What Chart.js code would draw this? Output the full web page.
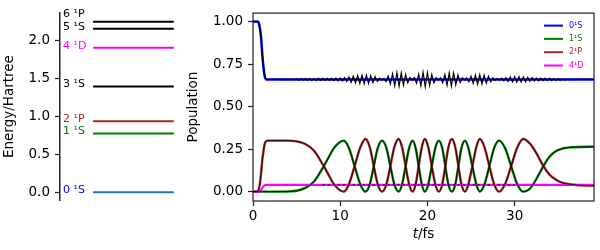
<!DOCTYPE html>
<html>
<head>
<meta charset="utf-8">
<script src="https://cdn.jsdelivr.net/npm/chart.js"></script>
<style>
  html, body { margin: 0; padding: 0; background: #fff; }
  #wrap { position: relative; width: 600px; height: 250px; }
  #levels { position: absolute; left: 0; top: 0; width: 185px; height: 250px; }
  #pop { position: absolute; left: 185px; top: 0; width: 415px; height: 250px; }
</style>
</head>
<body>
<div id="wrap">
  <canvas id="levels" width="185" height="250"></canvas>
  <canvas id="pop" width="415" height="250"></canvas>
</div>
<script>
// energy levels (left panel)
const levelNames = ['0 ¹S', '1 ¹S', '2 ¹P', '3 ¹S', '4 ¹D', '5 ¹S', '6 ¹P'];
const levelEnergies = [0.0, 0.772, 0.933, 1.389, 1.900, 2.148, 2.240];
const levelColors = ['#1f77b4', 'green', 'brown', 'black', 'magenta', 'black', 'black'];
const levelTextColors = ['blue', 'green', 'brown', 'black', 'magenta', 'black', 'black'];
const energyTicks = [0.0, 0.5, 1.0, 1.5, 2.0];

// populations (right panel)
const stateNames = ['0¹S', '1¹S', '2¹P', '4¹D'];
const stateColors = ['blue', 'green', 'brown', 'magenta'];
const popTicks = [0.0, 0.25, 0.5, 0.75, 1.0];
const timeTicks = [0, 10, 20, 30];

// 0 1S, smooth curve
const t0S = [0, 0.5, 0.7, 0.9, 1.1, 1.3, 1.5, 39.1];
const p0S = [1.0, 1.0, 0.985, 0.92, 0.785, 0.69, 0.66, 0.66];

// 0 1S, fast oscillating curve drawn on top
const t0Sfast = [0, 0.5, 0.7, 0.9, 1.1, 1.3, 1.5, 3.0,
  3.5, 3.75, 4, 4.25, 4.5, 4.75, 5, 5.25, 5.5, 5.75,
  6, 6.25, 6.5, 6.75, 7, 7.25, 7.5, 7.75, 8, 8.25,
  8.5, 8.75, 9, 9.25, 9.5, 9.75, 10, 10.25, 10.5, 10.75,
  11, 11.25, 11.5, 11.75, 12, 12.25, 12.5, 12.75, 13, 13.25,
  13.5, 13.75, 14, 14.25, 14.5, 14.75, 15, 15.25, 15.5, 15.75,
  16, 16.25, 16.5, 16.75, 17, 17.25, 17.5, 17.75, 18, 18.25,
  18.5, 18.75, 19, 19.25, 19.5, 19.75, 20, 20.25, 20.5, 20.75,
  21, 21.25, 21.5, 21.75, 22, 22.25, 22.5, 22.75, 23, 23.25,
  23.5, 23.75, 24, 24.25, 24.5, 24.75, 25, 25.25, 25.5, 25.75,
  26, 26.25, 26.5, 26.75, 27, 27.25, 27.5, 27.75, 28, 28.25,
  28.5, 28.75, 29, 29.25, 29.5, 29.75, 30, 30.25, 30.5, 30.75,
  31, 31.25, 31.5, 31.75, 32, 32.25, 32.5, 32.75, 33, 33.25,
  33.5, 33.75, 34, 34.25, 34.5, 34.75, 35, 35.25, 35.5, 35.75,
  36, 36.25, 36.5, 36.75, 37, 39.1];
const p0Sfast = [1.0, 1.0, 0.985, 0.92, 0.785, 0.69, 0.66, 0.66,
  0.662, 0.658, 0.663, 0.657, 0.663, 0.657, 0.664, 0.656, 0.664, 0.656,
  0.665, 0.655, 0.665, 0.655, 0.665, 0.654, 0.666, 0.654, 0.666, 0.654,
  0.666, 0.654, 0.666, 0.653, 0.667, 0.652, 0.668, 0.651, 0.670, 0.648,
  0.674, 0.643, 0.679, 0.639, 0.683, 0.636, 0.685, 0.634, 0.685, 0.636,
  0.682, 0.641, 0.676, 0.648, 0.668, 0.656, 0.664, 0.648, 0.680, 0.633,
  0.693, 0.623, 0.700, 0.620, 0.698, 0.626, 0.688, 0.640, 0.672, 0.656,
  0.672, 0.638, 0.691, 0.622, 0.702, 0.617, 0.701, 0.624, 0.689, 0.640,
  0.671, 0.656, 0.670, 0.641, 0.688, 0.625, 0.699, 0.620, 0.698, 0.627,
  0.686, 0.642, 0.670, 0.656, 0.668, 0.646, 0.679, 0.637, 0.686, 0.632,
  0.688, 0.633, 0.685, 0.638, 0.678, 0.646, 0.670, 0.654, 0.664, 0.656,
  0.666, 0.652, 0.670, 0.648, 0.674, 0.645, 0.676, 0.644, 0.676, 0.645,
  0.674, 0.647, 0.672, 0.649, 0.670, 0.651, 0.668, 0.652, 0.667, 0.653,
  0.667, 0.654, 0.666, 0.654, 0.665, 0.655, 0.664, 0.656, 0.663, 0.658,
  0.662, 0.659, 0.661, 0.660, 0.660, 0.660];

// 1 1S and 2 1P share one time grid
const tRabi = [0, 0.5, 0.8, 1.1, 1.4, 1.7, 3.0, 4.0, 5.0, 6.0, 7.0, 8.0, 8.6, 9.2, 9.8, 10.4,
  11.0, 11.65, 12.3, 12.9,
  13.4, 13.85, 14.3, 14.8,
  15.3, 15.75, 16.2, 16.7,
  17.1, 17.5, 17.9, 18.3,
  18.65, 19.0, 19.35, 19.7,
  20.1, 20.5, 20.9, 21.3,
  21.7, 22.05, 22.4, 22.8,
  23.2, 23.55, 23.9, 24.3,
  24.7, 25.15, 25.6, 26.0,
  26.55, 27.1, 27.65, 28.2,
  28.9, 29.6, 30.3, 31.0,
  31.8, 32.5, 33.3, 34.0, 34.8, 35.6, 36.5, 37.5, 39.1];
const p1S = [0, 0, 0, 0, 0, 0, 0, 0.001, 0.005, 0.022, 0.06, 0.14, 0.195, 0.25, 0.285, 0.30,
  0.256, 0.15, 0.044, 0.0,
  0.044, 0.15, 0.256, 0.30,
  0.256, 0.15, 0.044, 0.0,
  0.044, 0.15, 0.256, 0.30,
  0.256, 0.15, 0.044, 0.0,
  0.044, 0.15, 0.256, 0.30,
  0.256, 0.15, 0.044, 0.0,
  0.044, 0.15, 0.256, 0.30,
  0.256, 0.15, 0.044, 0.0,
  0.044, 0.15, 0.256, 0.30,
  0.256, 0.15, 0.044, 0.0,
  0.02, 0.075, 0.15, 0.205, 0.24, 0.255, 0.261, 0.263, 0.264];
const p2P = [0, 0, 0.05, 0.2, 0.29, 0.30, 0.30, 0.30, 0.296, 0.28, 0.24, 0.16, 0.105, 0.05, 0.015, 0.0,
  0.044, 0.15, 0.26, 0.31,
  0.26, 0.15, 0.044, 0.0,
  0.044, 0.15, 0.26, 0.31,
  0.26, 0.15, 0.044, 0.0,
  0.044, 0.15, 0.26, 0.31,
  0.26, 0.15, 0.044, 0.0,
  0.044, 0.15, 0.26, 0.31,
  0.26, 0.15, 0.044, 0.0,
  0.044, 0.15, 0.26, 0.31,
  0.26, 0.15, 0.044, 0.0,
  0.044, 0.15, 0.26, 0.31,
  0.28, 0.225, 0.15, 0.1, 0.068, 0.05, 0.042, 0.037, 0.035];

// 4 1D
const t4D = [0, 0.7, 0.9, 1.1, 1.3, 1.5, 39.1];
const p4D = [0, 0, 0.008, 0.025, 0.036, 0.04, 0.04];
const t4Dmark = [8.0, 30.0];
const p4Dmark = [0.04, 0.04];

Chart.defaults.font.family = '"DejaVu Sans"';
Chart.defaults.color = '#000';

const pts = (xs, ys) => xs.map((x, i) => ({x: x, y: ys[i]}));
const FONT = {size: 13.5};

// ---------- left: level diagram ----------
const levelLabels = {
  id: 'levelLabels',
  afterDatasetsDraw(chart) {
    const {ctx, chartArea, scales} = chart;
    ctx.save();
    ctx.font = '11px "DejaVu Sans"';
    ctx.textBaseline = 'middle';
    ctx.textAlign = 'left';
    let prev = Infinity;
    levelEnergies.forEach((e, i) => {
      let py = scales.y.getPixelForValue(e) - 2;
      if (prev - py < 12) py = prev - 13;  // keep stacked labels apart
      prev = py;
      ctx.fillStyle = levelTextColors[i];
      ctx.fillText(levelNames[i], chartArea.left + 3, py);
    });
    ctx.restore();
  }
};

new Chart(document.getElementById('levels'), {
  type: 'line',
  data: {
    datasets: levelEnergies.map((e, i) => ({
      label: levelNames[i],
      data: [{x: 0, y: e}, {x: 1, y: e}],
      borderColor: levelColors[i],
      borderWidth: 2,
      pointRadius: 0
    }))
  },
  options: {
    responsive: false,
    animation: false,
    events: [],
    layout: {padding: {left: 0, top: 6, right: 8, bottom: 50}},
    plugins: {legend: {display: false}, tooltip: {enabled: false}},
    scales: {
      x: {type: 'linear', min: -0.41, max: 1.04, display: false},
      y: {
        type: 'linear', min: -0.101, max: 2.354,
        afterFit(s) { s.width = 60; },
        afterBuildTicks(s) { s.ticks = energyTicks.map(v => ({value: v})); },
        ticks: {font: FONT, color: '#000', padding: 5, callback: v => v.toFixed(1)},
        grid: {drawOnChartArea: false, drawTicks: true, tickLength: 5, tickColor: '#222', tickWidth: 1.2},
        border: {display: true, color: '#222', width: 1.5},
        title: {display: true, text: 'Energy/Hartree', font: FONT, color: '#000', padding: {top: 1, bottom: 0}}
      }
    }
  },
  plugins: [levelLabels]
});

// ---------- right: populations ----------
const popExtras = {
  id: 'popExtras',
  afterDraw(chart) {
    const {ctx, chartArea: a} = chart;
    ctx.save();
    // frame
    ctx.strokeStyle = '#222';
    ctx.lineWidth = 1.2;
    ctx.strokeRect(a.left, a.top, a.right - a.left, a.bottom - a.top);
    // legend
    ctx.font = '8px "DejaVu Sans"';
    ctx.textBaseline = 'middle';
    ctx.textAlign = 'left';
    stateNames.forEach((name, i) => {
      const yy = a.top + 12.5 + i * 13.3;
      ctx.strokeStyle = stateColors[i];
      ctx.lineWidth = 2;
      ctx.beginPath();
      ctx.moveTo(a.right - 50, yy);
      ctx.lineTo(a.right - 31, yy);
      ctx.stroke();
      ctx.fillStyle = stateColors[i];
      ctx.fillText(name, a.right - 25, yy);
    });
    // x title: italic t, upright /fs
    ctx.fillStyle = '#000';
    ctx.textBaseline = 'alphabetic';
    ctx.font = 'italic 13.5px "DejaVu Sans"';
    const w1 = ctx.measureText('t').width;
    ctx.font = '13.5px "DejaVu Sans"';
    const w2 = ctx.measureText('/fs').width;
    const x0 = (a.left + a.right) / 2 - (w1 + w2) / 2;
    const by = a.bottom + 36.5;
    ctx.font = 'italic 13.5px "DejaVu Sans"';
    ctx.fillText('t', x0, by);
    ctx.font = '13.5px "DejaVu Sans"';
    ctx.fillText('/fs', x0 + w1, by);
    ctx.restore();
  }
};

const smooth = {pointRadius: 0, cubicInterpolationMode: 'monotone'};

new Chart(document.getElementById('pop'), {
  type: 'line',
  data: {
    datasets: [
      Object.assign({label: stateNames[0], data: pts(t0S, p0S), borderColor: stateColors[0], borderWidth: 2.5, order: 3}, smooth),
      Object.assign({label: stateNames[1], data: pts(tRabi, p1S), borderColor: stateColors[1], borderWidth: 2.4, order: 5}, smooth),
      Object.assign({label: stateNames[2], data: pts(tRabi, p2P), borderColor: stateColors[2], borderWidth: 2.4, order: 4}, smooth),
      Object.assign({label: stateNames[3], data: pts(t4D, p4D), borderColor: stateColors[3], borderWidth: 2.2, order: 3}, smooth),
      {label: 'ref 0', data: pts(t0Sfast, p0Sfast), borderColor: '#000', borderWidth: 1.2, order: 1, pointRadius: 0, tension: 0},
      Object.assign({label: 'ref 1', data: pts(tRabi, p1S), borderColor: '#000', borderWidth: 0.8, order: 1}, smooth),
      Object.assign({label: 'ref 2', data: pts(tRabi, p2P), borderColor: '#000', borderWidth: 0.8, order: 1}, smooth),
      Object.assign({label: 'ref 4', data: pts(t4Dmark, p4Dmark), borderColor: '#000', borderWidth: 1, borderDash: [2, 3], order: 1}, smooth)
    ]
  },
  options: {
    responsive: false,
    animation: false,
    events: [],
    layout: {padding: {left: 0, top: 7, right: 6, bottom: 0}},
    plugins: {legend: {display: false}, tooltip: {enabled: false}},
    scales: {
      x: {
        type: 'linear', min: 0, max: 39.1,
        afterFit(s) { s.height = 49; },
        afterBuildTicks(s) { s.ticks = timeTicks.map(v => ({value: v})); },
        ticks: {font: FONT, color: '#000', padding: 2, maxRotation: 0, callback: v => String(v)},
        grid: {drawOnChartArea: false, drawTicks: true, tickLength: 5, tickColor: '#222', tickWidth: 1.2},
        border: {display: false}
      },
      y: {
        type: 'linear', min: -0.055, max: 1.05,
        afterFit(s) { s.width = 68; },
        afterBuildTicks(s) { s.ticks = popTicks.map(v => ({value: v})); },
        ticks: {font: FONT, color: '#000', padding: 5, callback: v => v.toFixed(2)},
        grid: {drawOnChartArea: false, drawTicks: true, tickLength: 5, tickColor: '#222', tickWidth: 1.2},
        border: {display: false},
        title: {display: true, text: 'Population', font: FONT, color: '#000', padding: {top: 0, bottom: 0}}
      }
    }
  },
  plugins: [popExtras]
});
</script>
</body>
</html>
